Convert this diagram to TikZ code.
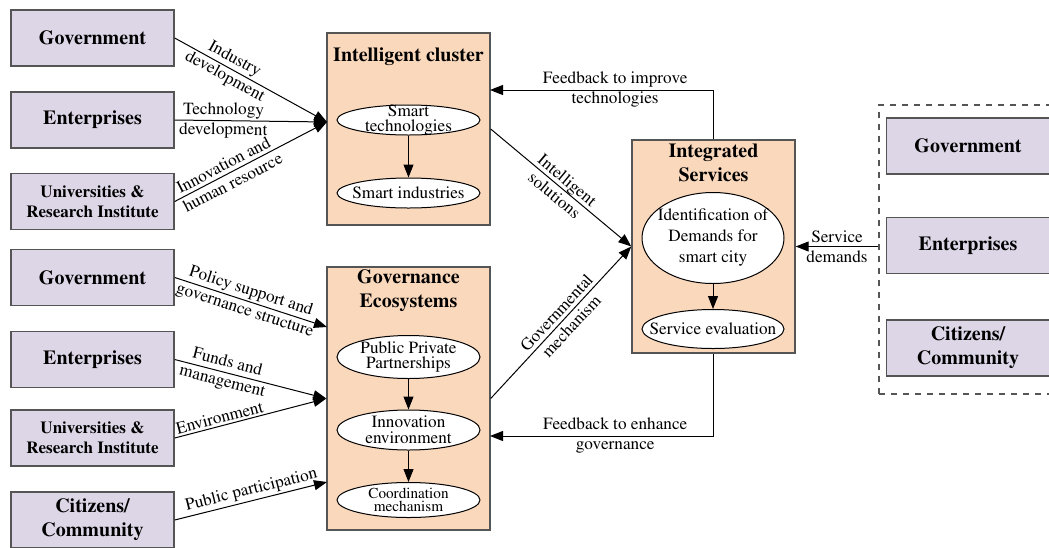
\documentclass[tikz,border=0pt]{standalone}
\usepackage[T1]{fontenc}
\usepackage{mathptmx}
\usepackage{tikz}
\usetikzlibrary{shapes.geometric,arrows.meta}
\definecolor{lav}{RGB}{221,214,231}
\definecolor{peach}{RGB}{250,216,188}
\definecolor{rim}{RGB}{85,85,85}
\tikzstyle{actor}=[rectangle, draw=rim, fill=lav, line width=0.7pt, minimum width=81.5pt, minimum height=28pt, inner sep=0pt, align=center, font=\fontsize{10}{12}\selectfont\bfseries]
\tikzstyle{actorsm}=[actor, font=\fontsize{8.5}{10}\selectfont\bfseries]
\tikzstyle{hub}=[rectangle, draw=rim, fill=peach, line width=0.7pt, minimum width=81.5pt, inner sep=0pt]
\tikzstyle{hubtitle}=[align=center, inner sep=0pt, font=\fontsize{10}{12}\selectfont\bfseries]
\tikzstyle{item}=[ellipse, draw=black, fill=white, line width=0.5pt, inner sep=0pt, minimum width=71.5pt]
\tikzstyle{itemtext}=[align=center, inner sep=0pt, font=\fontsize{8.6}{7.8}\selectfont]
\tikzstyle{flow}=[draw, line width=0.5pt, -{Triangle[length=6.5pt,width=5pt]}, black]
\tikzstyle{tag}=[align=center, sloped, inner sep=1pt, font=\fontsize{8.6}{10}\selectfont]

\begin{document}
\begin{tikzpicture}[x=0.5pt, y=-0.5pt]
	\useasboundingbox (0,0) rectangle (1049,547);

	% stakeholders on the left
	\node[actor] (gov_1) at (92.5, 38) {Government};
	\node[actor] (ent_1) at (92.5, 120) {Enterprises};
	\node[actorsm] (uni_1) at (92.5, 201.5) {Universities \&\\Research Institute};
	\node[actor] (gov_2) at (92.5, 277.5) {Government};
	\node[actor] (ent_2) at (92.5, 359.5) {Enterprises};
	\node[actorsm] (uni_2) at (92.5, 438) {Universities \&\\Research Institute};
	\node[actor] (cit_2) at (92.5, 520) {Citizens/\\Community};

	% stakeholders on the right
	\node[draw=rim, dashed, line width=0.6pt, minimum width=88pt, minimum height=144.5pt, inner sep=0pt] (grp) at (967, 249.5) {};
	\node[actor] (gov_3) at (968, 146) {Government};
	\node[actor] (ent_3) at (968, 245.5) {Enterprises};
	\node[actor] (cit_3) at (968, 348) {Citizens/\\Community};

	% the three blocks
	\node[hub, minimum height=96pt] (ic) at (408.5, 129) {};
	\node[hub, minimum height=131.5pt] (ge) at (408.5, 398.5) {};
	\node[hub, minimum height=106.5pt] (is) at (713.5, 246.5) {};
	\node[hubtitle] (ic_t) at (408.5, 57) {Intelligent cluster};
	\node[hubtitle] (ge_t) at (408.5, 290.5) {Governance\\Ecosystems};
	\node[hubtitle] (is_t) at (713.5, 163) {Integrated\\Services};

	\node[item, minimum height=15pt, label={[itemtext]center:Smart\\technologies}] (s_1) at (408.5, 120) {};
	\node[item, minimum height=15pt, label={[itemtext]center:Smart industries}] (s_2) at (408.5, 193) {};
	\node[item, minimum height=21.5pt, label={[itemtext]center:Public Private\\Partnerships}] (p_1) at (408.5, 357) {};
	\node[item, minimum height=20pt, label={[itemtext]center:Innovation\\environment}] (p_2) at (408.5, 430) {};
	\node[item, minimum height=17.5pt, label={[itemtext, font=\fontsize{7.6}{6.6}\selectfont]center:Coordination\\mechanism}] (p_3) at (408.5, 500) {};
	\node[item, minimum width=71pt, minimum height=45.5pt, label={[itemtext, font=\fontsize{8.6}{10.5}\selectfont]center:Identification of\\Demands for\\smart city}] (d_1) at (713, 238) {};
	\node[item, minimum width=71pt, minimum height=19.5pt, label={[itemtext]center:Service evaluation}] (d_2) at (713, 329) {};

	\coordinate (ic_in) at (327, 122);
	\coordinate (ge_in1) at (327, 327);
	\coordinate (ge_in3) at (327, 482);
	\coordinate (fb_1) at (490, 90);
	\coordinate (fb_2) at (490, 436);

	\draw[flow] (gov_1.east) -- node[tag, pos=0.36] {Industry\\development} (ic_in);
	\draw[flow] (ent_1.east) -- node[tag, pos=0.32] {Technology\\development} (ic_in);
	\draw[flow] (uni_1.east) -- node[tag, pos=0.35] {Innovation and\\human resource} (ic_in);
	\draw[flow] (gov_2.east) -- node[tag, pos=0.48] {Policy support and\\governance structure} (ge_in1);
	\draw[flow] (ent_2.east) -- node[tag, pos=0.33] {Funds and\\management} (ge.west);
	\draw[flow] (uni_2.east) -- node[tag, pos=0.31, above] {Environment} (ge.west);
	\draw[flow] (cit_2.east) -- node[tag, pos=0.52, above] {Public participation} (ge_in3);

	\draw[flow] (s_1) -- (s_2);
	\draw[flow] (p_1) -- (p_2);
	\draw[flow] (p_2) -- (p_3);
	\draw[flow] (d_1) -- (d_2);

	\draw[flow] (ic.east) -- node[tag, pos=0.5] {Intelligent\\solutions} (is.west);
	\draw[flow] (ge.east) -- node[tag, pos=0.52] {Governmental\\mechanism} (is.west);
	\draw[flow] (is.north) |- node[tag, pos=0.72] {Feedback to improve\\technologies} (fb_1);
	\draw[flow] (is.south) |- node[tag, pos=0.72] {Feedback to enhance\\governance} (fb_2);
	\draw[flow] (grp.west |- is.east) -- node[tag] {Service\\demands} (is.east);
\end{tikzpicture}
\end{document}
